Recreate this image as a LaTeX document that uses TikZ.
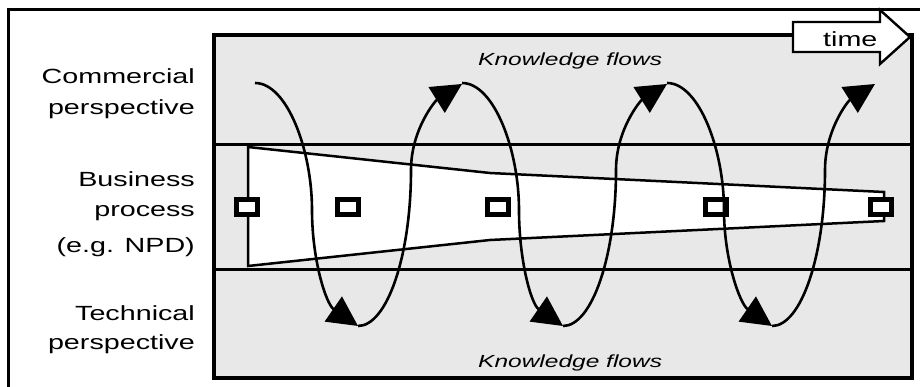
\documentclass[tikz,border=0pt]{standalone}
\usepackage{fontspec}
\setmainfont{Liberation Sans}
\usepackage{graphicx}
\usetikzlibrary{arrows.meta}
\definecolor{bggray}{RGB}{232,232,232}
\newcommand{\hs}[1]{\scalebox{1.4}[1]{#1}}
\begin{document}
\begin{tikzpicture}[x=1pt,y=-1pt,
  lbl/.style={anchor=base east, inner sep=0pt, font=\fontsize{20.5}{24}\selectfont},
  kf/.style={anchor=base west, inner sep=0pt, font=\fontsize{17.5}{21}\selectfont\itshape},
  outerframe/.style={line width=3pt},
  innerframe/.style={line width=4.5pt, fill=bggray},
  band/.style={line width=3pt},
  funnel/.style={draw, fill=white, line width=2.5pt, line join=miter},
  stage/.style={draw, fill=white, line width=4.5pt, minimum width=21pt, minimum height=15pt, inner sep=0pt},
  flow/.style={line width=2.6pt, -{Triangle[length=30pt,width=30pt]}},
  timearrow/.style={draw, fill=white, line width=2.4pt, line join=miter},
]
\useasboundingbox (0,0) rectangle (920,387);
% outer frame (cut off at right and bottom)
\draw[outerframe] (8,387) -- (8,10) -- (920,10);
% inner frame
\draw[innerframe] (214,35) rectangle (912,378);
\draw[band] (214,145) -- (912,145);
\draw[band] (214,269) -- (912,269);
% funnel
\draw[funnel] (248,147) -- (490,173) -- (884,192) -- (884,221) -- (490,240) -- (248,266) -- cycle;
% stages
\node[stage] (s1) at (247,207) {};
\node[stage] (s2) at (348,207) {};
\node[stage] (s3) at (498,207) {};
\node[stage] (s4) at (716,207) {};
\node[stage] (s5) at (881,207) {};
% knowledge flow spiral
\foreach \t/\b/\n in {255/358/462, 462/563/667, 667/772/875}{
  \draw[flow] (\t,83) .. controls ({\t+32},83) and ({\t+57},150) .. ({\t+57},210)
     .. controls ({\t+57},260) and ({\b-32},304) .. (\b,326);
  \draw[flow] (\b,326) .. controls ({\b+29},326) and ({\b+53},256) .. ({\b+53},170)
     .. controls ({\b+53},130) and ({\n-27},101) .. (\n,84);
}
% time arrow
\draw[timearrow] (793,22) -- (880,22) -- (880,10) -- (910,37) -- (880,64) -- (880,52) -- (793,52) -- cycle;
\node[anchor=base west, inner sep=0pt, font=\fontsize{20.5}{24}\selectfont] (time) at (823,47) {\hs{time}};
% labels
\node[lbl] (c1) at (195,84) {\hs{Commercial}};
\node[lbl] (c2) at (195,115) {\hs{perspective}};
\node[lbl] (b1) at (195,187) {\hs{Business}};
\node[lbl] (b2) at (195,217) {\hs{process}};
\node[lbl] (b3) at (195,252) {\hs{(e.g. NPD)}};
\node[lbl] (t1) at (195,320) {\hs{Technical}};
\node[lbl] (t2) at (195,349) {\hs{perspective}};
\node[kf] (kf1) at (478,66) {\hs{Knowledge flows}};
\node[kf] (kf2) at (478,367) {\hs{Knowledge flows}};
\end{tikzpicture}
\end{document}
